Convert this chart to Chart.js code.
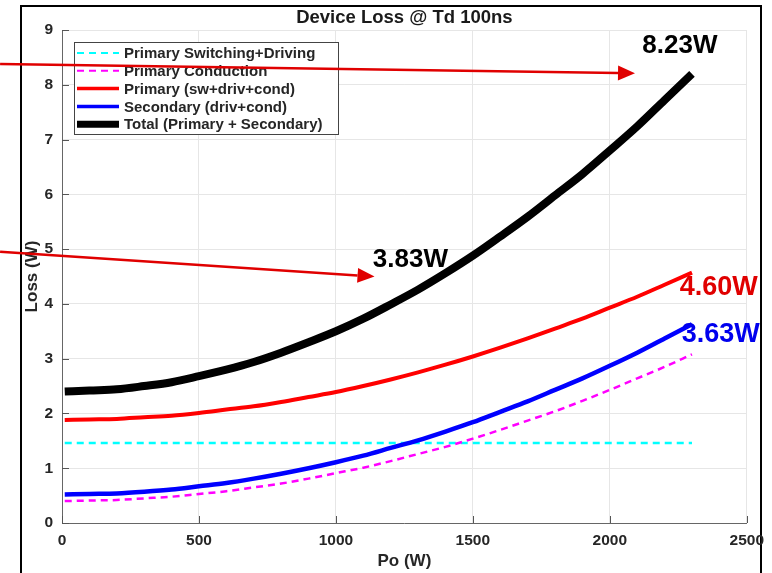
<!DOCTYPE html>
<html>
<head>
<meta charset="utf-8">
<script src="https://cdn.jsdelivr.net/npm/chart.js@4"></script>
<style>
  html, body { margin: 0; padding: 0; background: #fff; }
  #wrap { width: 772px; height: 573px; }
</style>
</head>
<body>
<div id="wrap"><canvas id="lossChart" width="772" height="573"></canvas></div>
<script>
// output power points (W)
const poValues = [10, 100, 200, 300, 400, 500, 600, 700, 800, 900, 1000, 1100,
  1200, 1300, 1400, 1500, 1600, 1700, 1800, 1900, 2000, 2100, 2200, 2300]

// losses (W)
const primSwDrv = [1.46, 1.46, 1.46, 1.46, 1.46, 1.46, 1.46, 1.46, 1.46, 1.46, 1.46, 1.46,
  1.46, 1.46, 1.46, 1.46, 1.46, 1.46, 1.46, 1.46, 1.46, 1.46, 1.46, 1.46]
const primCond = [0.40, 0.41, 0.42, 0.45, 0.48, 0.53, 0.58, 0.65, 0.72, 0.81, 0.91, 1.01,
  1.13, 1.26, 1.39, 1.54, 1.70, 1.87, 2.04, 2.23, 2.43, 2.64, 2.85, 3.08]
const primTotal = [1.88, 1.89, 1.90, 1.93, 1.96, 2.01, 2.07, 2.13, 2.21, 2.30, 2.39, 2.50,
  2.62, 2.75, 2.89, 3.04, 3.20, 3.37, 3.55, 3.73, 3.93, 4.13, 4.35, 4.57]
const secTotal = [0.52, 0.53, 0.54, 0.57, 0.61, 0.67, 0.73, 0.81, 0.90, 1.00, 1.11, 1.23,
  1.37, 1.51, 1.67, 1.84, 2.03, 2.22, 2.43, 2.64, 2.87, 3.11, 3.37, 3.63]
const allTotal = [2.40, 2.42, 2.44, 2.50, 2.57, 2.68, 2.80, 2.94, 3.11, 3.30, 3.50, 3.73,
  3.99, 4.26, 4.56, 4.88, 5.23, 5.59, 5.98, 6.37, 6.80, 7.24, 7.72, 8.20]

const seriesNames = ['Primary Switching+Driving', 'Primary Conduction', 'Primary (sw+driv+cond)',
  'Secondary (driv+cond)', 'Total (Primary + Secondary)']

const xTicks = [0, 500, 1000, 1500, 2000, 2500]
const yTicks = [0, 1, 2, 3, 4, 5, 6, 7, 8, 9]

// callouts: text + where it sits (Po, Loss)
const calloutText = ['8.23W', '3.83W', '4.60W', '3.63W']
const calloutPo = [2256, 1272, 2398, 2405]
const calloutLoss = [8.58, 4.67, 4.16, 3.30]

// red arrows: start -> tip (Po, Loss)
const arrowFrom = [[-226, 8.38], [-226, 4.95]]
const arrowTo = [[2092, 8.21], [1141, 4.50]]

const pts = vals => vals.map((v, i) => ({ x: poValues[i], y: v }))

const FONT = "'Liberation Sans', Arial, sans-serif"
const TXT = '#262626'

// white page + black outer frame + title over the plot centre
const frame = {
    id: 'frame',
    beforeDraw(chart) {
        const { ctx, chartArea } = chart
        ctx.save()
        ctx.fillStyle = '#fff'
        ctx.fillRect(0, 0, chart.width, chart.height)
        ctx.strokeStyle = '#000'
        ctx.lineWidth = 2
        ctx.strokeRect(21, 6, 740, 620)
        ctx.fillStyle = '#1a1a1a'
        ctx.font = 'bold 18.5px ' + FONT
        ctx.textAlign = 'center'
        ctx.textBaseline = 'alphabetic'
        ctx.fillText('Device Loss @ Td 100ns', (chartArea.left + chartArea.right) / 2, chartArea.top - 7)
        ctx.restore()
    }
}

// matlab-style ticks pointing into the plot
const inwardTicks = {
    id: 'inwardTicks',
    beforeDatasetsDraw(chart) {
        const { ctx, chartArea } = chart
        const { x, y } = chart.scales
        ctx.save()
        ctx.strokeStyle = '#555'
        ctx.lineWidth = 1
        ctx.beginPath()
        x.ticks.forEach(t => {
            const px = Math.round(x.getPixelForValue(t.value)) + 0.5
            ctx.moveTo(px, chartArea.bottom)
            ctx.lineTo(px, chartArea.bottom - 7)
        })
        y.ticks.forEach(t => {
            const py = Math.round(y.getPixelForValue(t.value)) + 0.5
            ctx.moveTo(chartArea.left, py)
            ctx.lineTo(chartArea.left + 7, py)
        })
        ctx.stroke()
        ctx.restore()
    }
}

// legend box inside the upper-left corner of the plot
const boxLegend = {
    id: 'boxLegend',
    afterDatasetsDraw(chart) {
        const { ctx, chartArea } = chart
        const bx = chartArea.left + 12, by = chartArea.top + 12
        const bw = 264, bh = 92
        ctx.save()
        ctx.fillStyle = '#fff'
        ctx.fillRect(bx, by, bw, bh)
        ctx.strokeStyle = '#444'
        ctx.lineWidth = 1
        ctx.strokeRect(bx + 0.5, by + 0.5, bw, bh)
        ctx.font = 'bold 15px ' + FONT
        ctx.textBaseline = 'middle'
        chart.data.datasets.forEach((ds, i) => {
            const ry = by + 11 + i * 17.8
            ctx.beginPath()
            ctx.strokeStyle = ds.borderColor
            ctx.lineWidth = ds.legendWidth
            ctx.setLineDash(ds.borderDash || [])
            ctx.moveTo(bx + 3, ry)
            ctx.lineTo(bx + 45, ry)
            ctx.stroke()
            ctx.setLineDash([])
            ctx.fillStyle = TXT
            ctx.fillText(ds.label, bx + 50, ry + 1)
        })
        ctx.restore()
    }
}

// red arrows and value callouts
const callouts = {
    id: 'callouts',
    afterDraw(chart) {
        const { ctx } = chart
        const { x, y } = chart.scales
        ctx.save()
        ctx.strokeStyle = '#e00000'
        ctx.fillStyle = '#e00000'
        ctx.lineWidth = 2.5
        arrowFrom.forEach((a, i) => {
            const x0 = x.getPixelForValue(a[0]), y0 = y.getPixelForValue(a[1])
            const x1 = x.getPixelForValue(arrowTo[i][0]), y1 = y.getPixelForValue(arrowTo[i][1])
            const ang = Math.atan2(y1 - y0, x1 - x0)
            const hl = 17, hw = 7.5
            const bxp = x1 - hl * Math.cos(ang), byp = y1 - hl * Math.sin(ang)
            ctx.beginPath()
            ctx.moveTo(x0, y0)
            ctx.lineTo(bxp, byp)
            ctx.stroke()
            ctx.beginPath()
            ctx.moveTo(x1, y1)
            ctx.lineTo(bxp - hw * Math.sin(ang), byp + hw * Math.cos(ang))
            ctx.lineTo(bxp + hw * Math.sin(ang), byp - hw * Math.cos(ang))
            ctx.closePath()
            ctx.fill()
        })
        const colors = ['#000', '#000', '#e00000', '#0000ee']
        const sizes = [26, 26, 27, 27]
        ctx.textAlign = 'center'
        ctx.textBaseline = 'alphabetic'
        calloutText.forEach((t, i) => {
            ctx.font = 'bold ' + sizes[i] + 'px ' + FONT
            ctx.fillStyle = colors[i]
            ctx.fillText(t, x.getPixelForValue(calloutPo[i]), y.getPixelForValue(calloutLoss[i]))
        })
        ctx.restore()
    }
}

Chart.defaults.font.family = FONT
Chart.defaults.color = TXT

const ctx = document.getElementById('lossChart').getContext('2d')
new Chart(ctx, {
    type: 'line',
    data: {
        datasets: [
            { label: seriesNames[0], data: pts(primSwDrv), borderColor: '#00ffff', borderWidth: 2.5, legendWidth: 2, borderDash: [7, 5], order: 4 },
            { label: seriesNames[1], data: pts(primCond), borderColor: '#ff00ff', borderWidth: 2.5, legendWidth: 2, borderDash: [7, 5], order: 3 },
            { label: seriesNames[2], data: pts(primTotal), borderColor: '#ff0000', borderWidth: 4, legendWidth: 3.5, order: 2 },
            { label: seriesNames[3], data: pts(secTotal), borderColor: '#0000ff', borderWidth: 4.5, legendWidth: 3.5, order: 1 },
            { label: seriesNames[4], data: pts(allTotal), borderColor: '#000000', borderWidth: 8, legendWidth: 7, order: 0 }
        ]
    },
    options: {
        responsive: false,
        animation: false,
        events: [],
        layout: { padding: { top: 30, right: 24, left: 0, bottom: 0 } },
        elements: {
            point: { radius: 0 },
            line: { cubicInterpolationMode: 'monotone', fill: false, borderCapStyle: 'butt' }
        },
        plugins: {
            legend: { display: false },
            tooltip: { enabled: false },
            title: { display: false }
        },
        scales: {
            x: {
                type: 'linear',
                min: 0,
                max: 2500,
                afterBuildTicks: s => { s.ticks = xTicks.map(v => ({ value: v })) },
                afterFit: s => { s.height = 50 },
                grid: { color: '#e6e6e6', drawTicks: false },
                border: { color: '#666', width: 1 },
                ticks: { padding: 8, font: { size: 15.5, weight: 'bold' }, maxRotation: 0, callback: v => String(v) },
                title: { display: true, text: 'Po (W)', font: { size: 17, weight: 'bold' }, padding: { top: 0, bottom: 1 } }
            },
            y: {
                min: 0,
                max: 9,
                afterBuildTicks: s => { s.ticks = yTicks.map(v => ({ value: v })) },
                afterFit: s => { s.width = 62 },
                grid: { color: '#e6e6e6', drawTicks: false },
                border: { color: '#666', width: 1 },
                ticks: { padding: 9, font: { size: 15.5, weight: 'bold' }, callback: v => String(v) },
                title: { display: true, text: 'Loss (W)', font: { size: 17, weight: 'bold' }, padding: { top: 22, bottom: 0 } }
            }
        }
    },
    plugins: [frame, inwardTicks, boxLegend, callouts]
});
</script>
</body>
</html>
